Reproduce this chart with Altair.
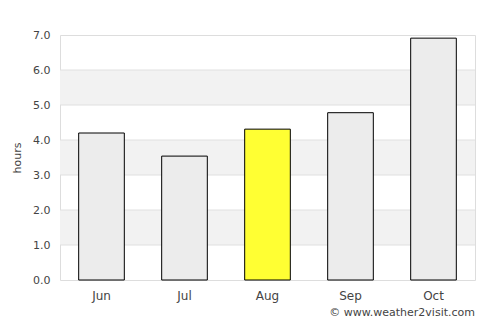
import altair as alt
import pandas as pd

months = ["Jun", "Jul", "Aug", "Sep", "Oct"]
hours = [4.2, 3.54, 4.31, 4.78, 6.91]
colors = ["#ececec", "#ececec", "#ffff33", "#ececec", "#ececec"]
band_lo = [1, 3, 5]
band_hi = [2, 4, 6]
grid_vals = [1, 2, 3, 4, 5, 6]
y_ticks = [0, 1, 2, 3, 4, 5, 6, 7]
credit = ["© www.weather2visit.com"]

df = pd.DataFrame({"month": months, "hours": hours, "color": colors})
bands = pd.DataFrame({"lo": band_lo, "hi": band_hi})
grid = pd.DataFrame({"g": grid_vals})
cred = pd.DataFrame({"t": credit})

FONT = "DejaVu Sans"
yscale = alt.Scale(domain=[0, 7], nice=False, zero=True)
yaxis = alt.Axis(title="hours", values=y_ticks, format=".1f",
                 ticks=False, domain=False, grid=False, labelPadding=10,
                 labelOverlap=False,
                 labelFont=FONT, labelFontSize=11, labelColor="#444444",
                 titleFont=FONT, titleFontSize=11, titleColor="#444444",
                 titleFontWeight="normal", titlePadding=10)

band_layer = alt.Chart(bands).mark_rect(color="#f2f2f2").encode(
    y=alt.Y("lo:Q", scale=yscale, axis=yaxis),
    y2="hi:Q",
    x=alt.value(0),
    x2=alt.value(415),
)

grid_layer = alt.Chart(grid).mark_rule(color="#e0e0e0", strokeWidth=1).encode(
    y=alt.Y("g:Q", scale=yscale, axis=yaxis),
    x=alt.value(0),
    x2=alt.value(415),
)

bars = alt.Chart(df).mark_bar(stroke="black", strokeWidth=1).encode(
    x=alt.X("month:N", sort=months,
            scale=alt.Scale(paddingInner=0.45, paddingOuter=0.225),
            axis=alt.Axis(title=None, labelAngle=0, ticks=False, domain=False,
                          labelPadding=10, labelFont=FONT, labelFontSize=12,
                          labelColor="#444444")),
    y=alt.Y("hours:Q", scale=yscale, axis=yaxis),
    color=alt.Color("color:N", scale=None),
)

text = alt.Chart(cred).mark_text(align="right", baseline="middle", font=FONT,
                                 fontSize=11, color="#444444").encode(
    text="t:N",
    x=alt.value(415),
    y=alt.value(278),
)

chart = alt.layer(band_layer, grid_layer, bars, text).properties(
    width=415, height=245,
    autosize=alt.AutoSizeParams(type="none"),
    padding={"left": 60, "top": 35, "right": 25, "bottom": 45},
).configure_view(stroke="#dddddd", strokeWidth=1).configure(background="white")

chart.save("out.html", embed_options={"renderer": "svg", "actions": False})
